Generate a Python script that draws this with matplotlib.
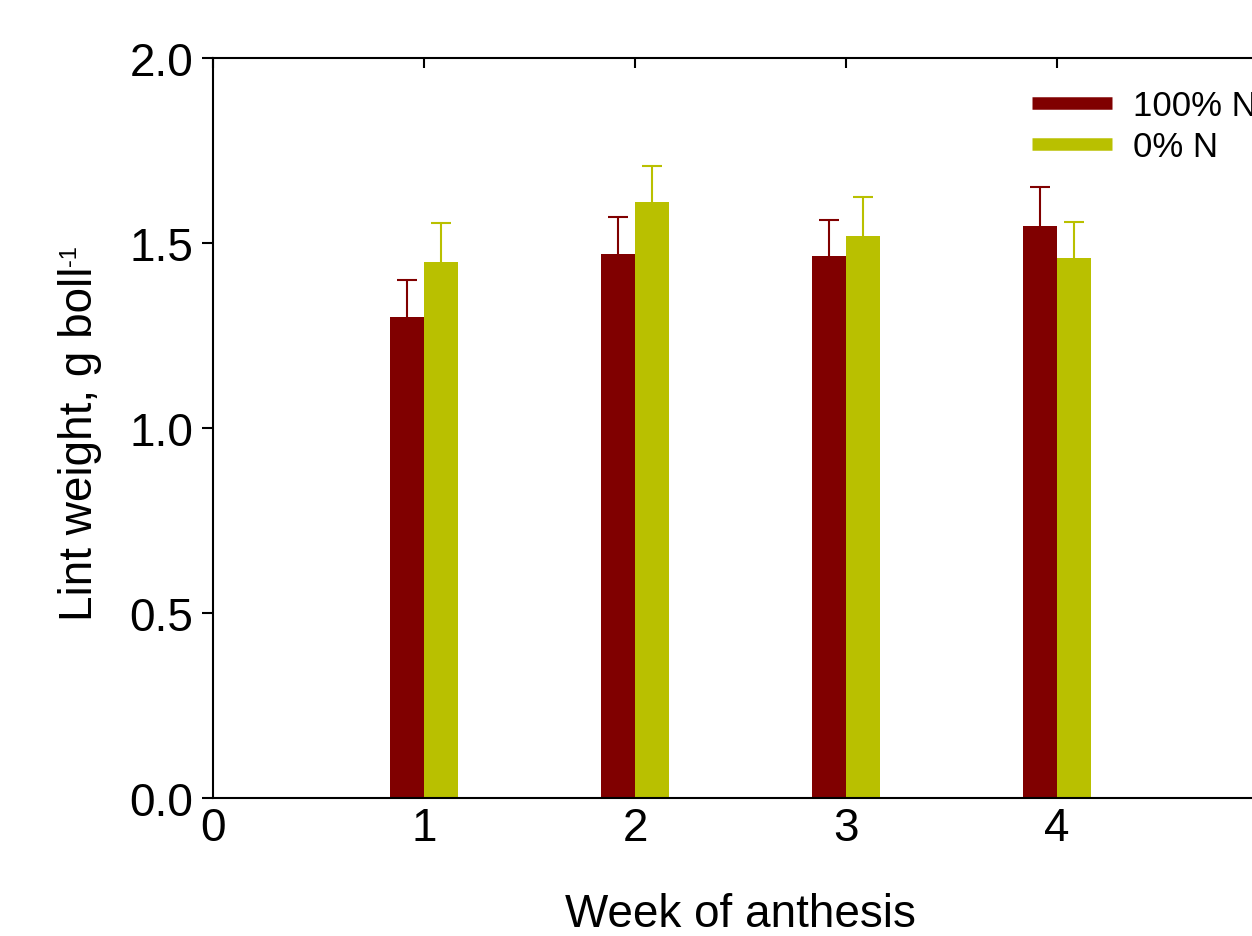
import numpy as np
import matplotlib
matplotlib.use('Agg')
import matplotlib.pyplot as plt
from matplotlib.lines import Line2D

plt.rcParams['font.family'] = ['Liberation Sans', 'DejaVu Sans']

weeks = [1, 2, 3, 4]
full_n = [1.30, 1.47, 1.465, 1.545]
full_n_err = [0.10, 0.10, 0.097, 0.107]
zero_n = [1.45, 1.61, 1.52, 1.46]
zero_n_err = [0.104, 0.097, 0.105, 0.096]
labels = ['100% N', '0% N']
colors = ['#800000', '#b9c000']

fig = plt.figure(figsize=(12.52, 9.37), dpi=100)
ax = fig.add_axes([213 / 1252, 138 / 937, 1055 / 1252, 740 / 937])

x = np.array(weeks)
w = 0.16
ax.bar(x - w / 2, full_n, w, color=colors[0])
ax.bar(x + w / 2, zero_n, w, color=colors[1])
for xs, vals, errs, c in [(x - w / 2, full_n, full_n_err, colors[0]),
                          (x + w / 2, zero_n, zero_n_err, colors[1])]:
    eb = ax.errorbar(xs, vals, yerr=[[0] * 4, errs], fmt='none', ecolor=c,
                     elinewidth=1.5, capsize=7.5, capthick=1.5)
    eb[1][0].set_visible(False)  # hide the lower caps sitting on the bar tops

ax.set_xlim(0, 5)
ax.set_ylim(0, 2.0)
ax.set_xticks([0, 1, 2, 3, 4])
ax.set_yticks([0, 0.5, 1.0, 1.5, 2.0])
ax.set_yticklabels(['0.0', '0.5', '1.0', '1.5', '2.0'])
for s in ax.spines.values():
    s.set_linewidth(1.5)
ax.spines['right'].set_visible(False)
ax.tick_params(axis='y', direction='out', length=8, width=1.5, labelsize=33, pad=6)
ax.tick_params(axis='x', which='both', bottom=False, top=True, direction='in',
               length=7, width=1.5, labelsize=33, pad=6)

ax.set_xlabel('Week of anthesis', fontsize=33, labelpad=30)
ax.set_ylabel('Lint weight, g boll', fontsize=33)
ax.yaxis.set_label_coords(-0.105, 0.48)

handles = [Line2D([0], [0], color=c, lw=9, solid_capstyle='butt') for c in colors]
fig.legend(handles, labels, loc='upper left', bbox_to_anchor=(1001 / 1252, 1 - 59 / 937),
           frameon=False, fontsize=25, handlelength=2.3, handletextpad=0.6,
           labelspacing=0.22)

# small superscript "-1" after the rotated y label
fig.canvas.draw()
bb = ax.yaxis.label.get_window_extent()
fig.text((bb.x0 + 1) / 1252, (bb.y1 + 1) / 937, '-1', fontsize=17, rotation=90,
         ha='left', va='bottom')

fig.savefig('out.png', dpi=100)
